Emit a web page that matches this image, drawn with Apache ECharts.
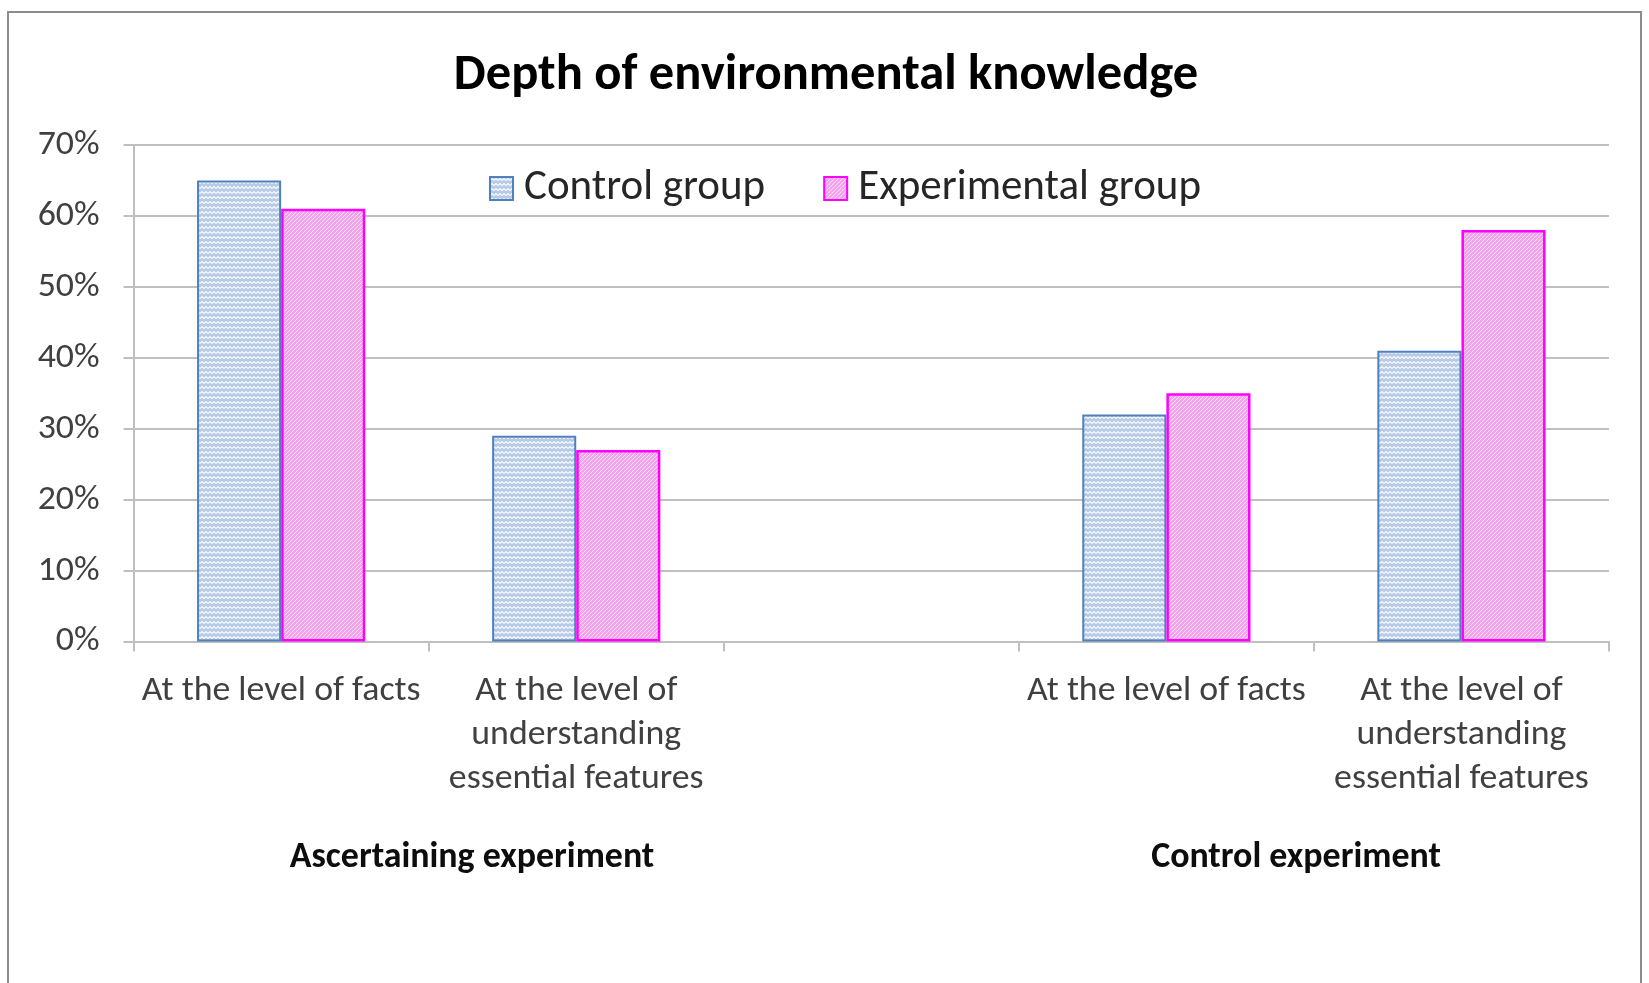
<!DOCTYPE html>
<html><head><meta charset="utf-8">
<script src="https://cdn.jsdelivr.net/npm/echarts@6/dist/echarts.min.js"></script>
<style>html,body{margin:0;padding:0;background:#fff}#c{width:1649px;height:983px}</style>
</head><body><div id="c"></div>
<script>
// ---- data ----
const categories = [
  'At the level of facts',
  'At the level of\nunderstanding\nessential features',
  '',
  'At the level of facts',
  'At the level of\nunderstanding\nessential features'
];
const seriesNames = ['Control group', 'Experimental group'];
const controlGroup = [65, 29, null, 32, 41];
const experimentalGroup = [61, 27, null, 35, 58];
const yMin = 0, yMax = 70, yStep = 10;
const groupLabels = ['Ascertaining experiment', 'Control experiment'];
const chartTitle = 'Depth of environmental knowledge';

// ---- fonts ----
const FONT = 'Carlito, Lato, "Open Sans", sans-serif';
const mctx = document.createElement('canvas').getContext('2d');
function fit(text, weight, target) {
  mctx.font = weight + ' 100px ' + FONT;
  return Math.round(1000 * target / mctx.measureText(text).width) / 10;
}
const titleSize = fit(chartTitle, 'bold', 744);
const legendSize = fit('Control group', 'normal', 241);
const tickSize = fit('At the level of facts', 'normal', 279);
const groupSize = fit('Ascertaining experiment', 'bold', 365);

// ---- patterns ----
function wavePattern() {
  const c = document.createElement('canvas');
  c.width = 8; c.height = 5;
  const g = c.getContext('2d');
  g.fillStyle = '#b7cbe6'; g.fillRect(0, 0, 8, 5);
  g.strokeStyle = 'rgba(255,255,255,0.9)'; g.lineWidth = 1.2;
  g.beginPath();
  g.moveTo(0, 3.5); g.lineTo(2, 1.5); g.lineTo(4, 3.5); g.lineTo(6, 1.5); g.lineTo(8, 3.5);
  g.stroke();
  return c;
}
function hatchPattern() {
  const c = document.createElement('canvas');
  c.width = 4; c.height = 4;
  const g = c.getContext('2d');
  g.fillStyle = '#f6a0f0'; g.fillRect(0, 0, 4, 4);
  g.strokeStyle = 'rgba(255,255,255,0.75)'; g.lineWidth = 1;
  g.beginPath();
  g.moveTo(-1, 1); g.lineTo(1, -1);
  g.moveTo(-1, 5); g.lineTo(5, -1);
  g.moveTo(3, 5); g.lineTo(5, 3);
  g.stroke();
  return c;
}

const chart = echarts.init(document.getElementById('c'), null, {renderer: 'canvas'});
const gridColor = '#bfbfbf';
chart.setOption({
  backgroundColor: '#fff',
  animation: false,
  title: {
    text: chartTitle, left: 821, top: 71, textAlign: 'center', textVerticalAlign: 'middle',
    textStyle: {fontFamily: FONT, fontWeight: 'bold', fontSize: titleSize, color: '#000'}
  },
  legend: {
    data: seriesNames, left: 484, top: 162, icon: 'rect', itemWidth: 23, itemHeight: 23, itemGap: 58,
    textStyle: {fontFamily: FONT, fontSize: legendSize, color: '#262626', lineHeight: 42, padding: [0, 0, 0, 6]}
  },
  grid: {left: 133.6, right: 40, top: 145, bottom: 341.5},
  xAxis: {
    type: 'category', data: categories,
    axisLine: {lineStyle: {color: gridColor, width: 2}},
    axisTick: {show: true, interval: 0, length: 10, lineStyle: {color: gridColor, width: 2}},
    axisLabel: {interval: 0, fontFamily: FONT, fontSize: tickSize, lineHeight: 44, color: '#404040', margin: 28}
  },
  yAxis: {
    type: 'value', min: yMin, max: yMax, interval: yStep,
    axisLine: {show: true, lineStyle: {color: gridColor, width: 2}},
    axisTick: {show: true, length: 10, lineStyle: {color: gridColor, width: 2}},
    axisLabel: {formatter: '{value}%', fontFamily: FONT, fontSize: tickSize, color: '#404040', margin: 34},
    splitLine: {lineStyle: {color: gridColor, width: 2}}
  },
  series: [
    {
      name: seriesNames[0], type: 'bar', data: controlGroup, barGap: '0%', barCategoryGap: '43%',
      itemStyle: {color: {image: wavePattern(), repeat: 'repeat'}, borderColor: '#4f81bd', borderWidth: 2}
    },
    {
      name: seriesNames[1], type: 'bar', data: experimentalGroup, barGap: '0%', barCategoryGap: '43%',
      itemStyle: {color: {image: hatchPattern(), repeat: 'repeat'}, borderColor: '#ff00ff', borderWidth: 2.5}
    }
  ],
  graphic: [
    {type: 'rect', z: -10, silent: true, shape: {x: 8, y: 12, width: 1633, height: 1000},
     style: {fill: 'none', stroke: '#8c8c8c', lineWidth: 2}},
    {type: 'text', x: 472, y: 858, style: {text: groupLabels[0], align: 'center', verticalAlign: 'middle',
      font: 'bold ' + groupSize + 'px ' + FONT, fill: '#0d0d0d'}},
    {type: 'text', x: 1296, y: 858, style: {text: groupLabels[1], align: 'center', verticalAlign: 'middle',
      font: 'bold ' + groupSize + 'px ' + FONT, fill: '#0d0d0d'}}
  ]
});
</script></body></html>
